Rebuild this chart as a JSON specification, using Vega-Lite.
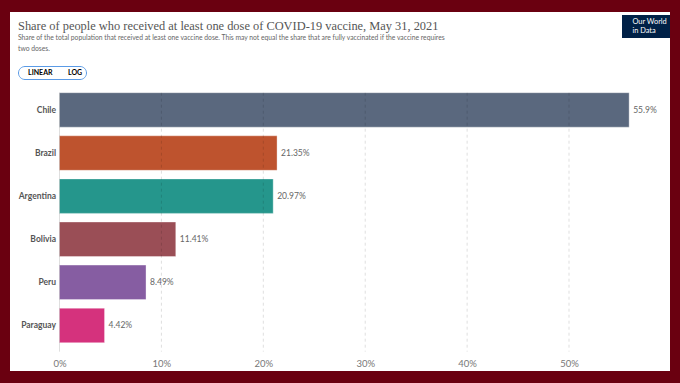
{
  "$schema": "https://vega.github.io/schema/vega-lite/v6.json",
  "width": 660,
  "height": 359,
  "autosize": {"type": "none"},
  "padding": {"left": 10, "top": 12, "right": 10, "bottom": 12},
  "background": "#6a0010",
  "config": {
    "view": {"fill": "#ffffff", "stroke": null}
  },
  "title": {
    "text": "Share of people who received at least one dose of COVID-19 vaccine, May 31, 2021",
    "subtitle": ["Share of the total population that received at least one vaccine dose. This may not equal the share that are fully vaccinated if the vaccine requires", "two doses."],
    "anchor": "start",
    "frame": "group",
    "orient": "top",
    "offset": -41,
    "dx": 8,
    "font": "Liberation Serif",
    "fontSize": 12.4,
    "fontWeight": "normal",
    "color": "#555555",
    "subtitleFont": "Lato",
    "subtitleFontSize": 6.75,
    "subtitleColor": "#666666",
    "subtitleLineHeight": 11,
    "subtitlePadding": 3
  },
  "data": {
    "values": [
      {"country": "Chile", "v": 55.9},
      {"country": "Brazil", "v": 21.35},
      {"country": "Argentina", "v": 20.97},
      {"country": "Bolivia", "v": 11.41},
      {"country": "Peru", "v": 8.49},
      {"country": "Paraguay", "v": 4.42}
    ]
  },
  "encoding": {
    "y": {
      "field": "country",
      "type": "nominal",
      "sort": ["Chile", "Brazil", "Argentina", "Bolivia", "Peru", "Paraguay"],
      "scale": {"range": [80.7, 330.7], "paddingInner": 0.2, "paddingOuter": 0, "round": false},
      "axis": {
        "title": null,
        "orient": "left",
        "offset": -49.5,
        "domain": false,
        "ticks": false,
        "grid": false,
        "labelPadding": 4,
        "labelFont": "Lato",
        "labelFontSize": 8.5,
        "labelFontWeight": "bold",
        "labelColor": "#555555"
      }
    }
  },
  "resolve": {"scale": {"stroke": "independent"}},
  "layer": [
    {
      "mark": {"type": "bar", "strokeWidth": 1, "strokeOpacity": 0.35},
      "encoding": {
        "x": {
          "field": "v",
          "type": "quantitative",
          "scale": {"domain": [-4.858, 59.91], "nice": false, "zero": false},
          "axis": {
            "title": null,
            "orient": "bottom",
            "offset": -13,
            "values": [0, 10, 20, 30, 40, 50],
            "labelExpr": "datum.value + '%'",
            "domain": false,
            "ticks": false,
            "grid": false,
            "labelPadding": 0,
            "labelFont": "Lato",
            "labelFontSize": 9.5,
            "labelColor": "#777777"
          }
        },
        "x2": {"datum": 0},
        "fill": {
          "field": "country",
          "type": "nominal",
          "scale": {
            "domain": ["Chile", "Brazil", "Argentina", "Bolivia", "Peru", "Paraguay"],
            "range": ["#5a687e", "#be532e", "#25968c", "#9a4e56", "#865da2", "#d5327d"]
          },
          "legend": null
        },
        "stroke": {
          "datum": "LINEAR",
          "type": "nominal",
          "scale": {"domain": ["LINEAR", "LOG"], "range": ["#ffffff", "#ffffff"]},
          "legend": {
            "orient": "none",
            "legendX": 8,
            "legendY": 54,
            "direction": "horizontal",
            "title": null,
            "fillColor": "#ffffff",
            "strokeColor": "#5b9be6",
            "cornerRadius": 7,
            "padding": 3,
            "symbolSize": 0,
            "symbolOpacity": 0,
            "symbolStrokeWidth": 0,
            "labelOffset": 0,
            "columnPadding": 8,
            "labelFont": "Lato",
            "labelFontSize": 7,
            "labelFontWeight": "bold",
            "encode": {
              "labels": {"update": {"fill": {"signal": "datum.label === 'LINEAR' ? '#2f66b3' : '#777777'"}}}
            }
          }
        }
      }
    },
    {
      "transform": [{"calculate": "format(datum.v, '.2~f') + '%'", "as": "label"}],
      "mark": {"type": "text", "align": "left", "baseline": "middle", "dx": 4, "font": "Lato", "fontSize": 8.5, "color": "#666666"},
      "encoding": {
        "x": {"field": "v", "type": "quantitative"},
        "text": {"field": "label"}
      }
    },
    {
      "data": {"values": [{"g": 0}, {"g": 10}, {"g": 20}, {"g": 30}, {"g": 40}, {"g": 50}]},
      "mark": {"type": "rule", "strokeWidth": 1, "opacity": 0.13},
      "encoding": {
        "x": {"field": "g", "type": "quantitative"},
        "y": {"datum": "Chile", "bandPosition": 0},
        "y2": {"datum": "Paraguay", "bandPosition": 1.26},
        "strokeDash": {"condition": {"test": "datum.g === 0", "value": [1, 0]}, "value": [3, 3]},
        "stroke": {
          "datum": "Our World in Data",
          "type": "nominal",
          "scale": {"range": ["#000000"]},
          "legend": {
            "orient": "none",
            "legendX": 612,
            "legendY": 3,
            "title": null,
            "fillColor": "#002147",
            "padding": 3,
            "symbolSize": 0,
            "symbolOpacity": 0,
            "symbolStrokeWidth": 0,
            "labelOffset": 0,
            "labelColor": "#ffffff",
            "labelFont": "Lato",
            "labelFontSize": 7.4,
            "labelExpr": "['Our World', 'in Data']"
          }
        }
      }
    }
  ]
}
